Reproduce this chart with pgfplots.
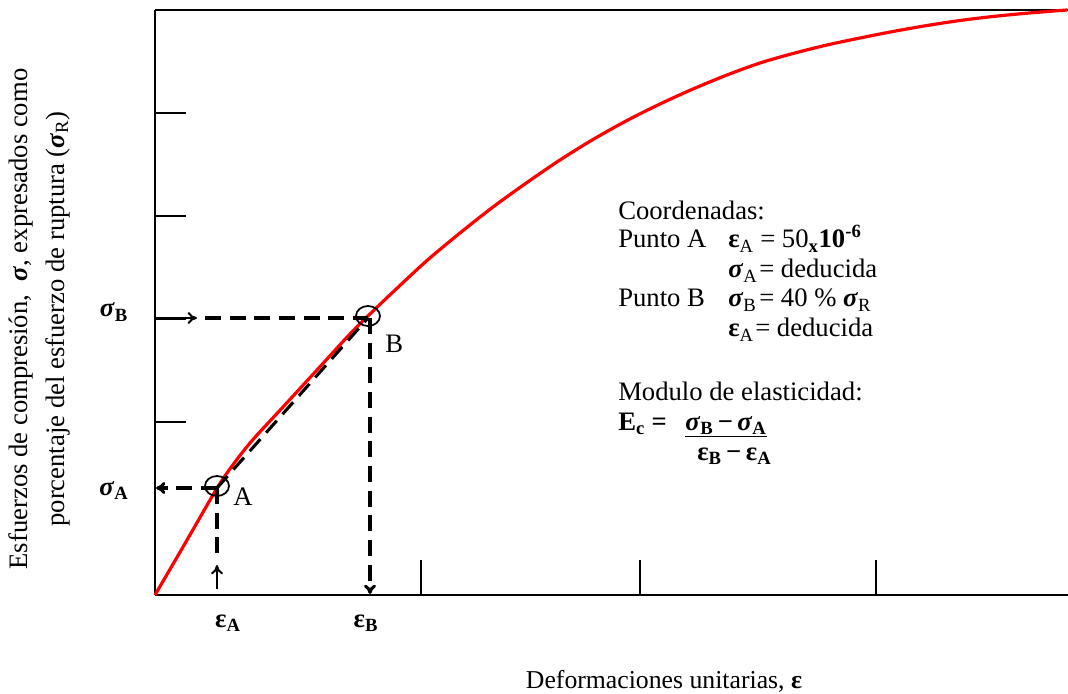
\documentclass[border=0pt]{standalone}
\usepackage{pgfplots}
\pgfplotsset{compat=1.18}
\usepackage{fontspec}
\setmainfont{Liberation Serif}
\usetikzlibrary{arrows.meta}

\newcommand{\sig}[1]{\textbf{\textit{σ}}\textsubscript{\textbf{#1}}}
\newcommand{\eps}[1]{\textbf{ε}\textsubscript{\textbf{#1}}}

\begin{document}
\begin{tikzpicture}[
  dsh/.style={black, line width=2.3pt, dash pattern=on 12pt off 6.5pt},
  arr/.style={-{To[length=7pt,width=9pt]}},
  lbl/.style={font=\fontsize{20}{24}\selectfont, inner sep=0pt},
]
\begin{axis}[
  scale only axis, width=684.75pt, height=438.75pt,
  xmin=0, xmax=913, ymin=0, ymax=585,
  axis x line*=bottom, axis y line*=left,
  axis line style={line width=1.3pt},
  xtick={266,485,721}, ytick={173,276,379,482},
  xticklabels={}, yticklabels={},
  tick align=inside,
  xtick style={black, line width=1pt, /pgfplots/major tick length=26pt},
  ytick style={black, line width=1pt, /pgfplots/major tick length=23pt},
  clip=false,
]
% top frame line
\addplot[black, line width=1.3pt] coordinates {(0,585) (913,585)};

% stress-strain curve
\addplot[red, line width=2.4pt, smooth] coordinates {
  (0,0) (28,48) (58,100) (72,122) (95,152) (128,188) (162,225)
  (195,261) (215,281) (238,303) (272,334.5) (305,362) (338,388)
  (372,412.5) (405,435) (438,455.5) (472,474.5) (505,491) (538,506)
  (572,520) (605,532) (638,541.5) (672,550) (705,557) (738,563.5)
  (772,569.5) (805,574.5) (838,578.5) (872,581.8) (912,585)};

% chord A-B
\addplot[dsh] coordinates {(62,107) (213,277)};
% sigma_B guide
\addplot[black, line width=1.5pt, arr] coordinates {(1,277) (42,277)};
\addplot[dsh] coordinates {(50,277) (213,277)};
\addplot[dsh, arr] coordinates {(215,277) (215,1)};
% sigma_A guide
\addplot[dsh, arr] coordinates {(62,107) (1,107)};
\addplot[dsh] coordinates {(62,107) (62,34)};
\addplot[black, line width=1.5pt, arr] coordinates {(62,6) (62,30)};

% points A and B
\addplot[only marks, mark=o, mark size=7.5pt,
  mark options={black, line width=1.3pt, xscale=1.2}]
  coordinates {(62,109) (213,279)};

% point labels
\node[lbl, anchor=base west] at (axis cs:78,90) {A};
\node[lbl, anchor=base west] at (axis cs:230,243) {B};
\node[lbl, anchor=base] at (axis cs:-41,278) {\sig{B}};
\node[lbl, anchor=base] at (axis cs:-41,100) {\sig{A}};
\node[lbl, anchor=base] at (axis cs:73,-32) {\eps{A}};
\node[lbl, anchor=base] at (axis cs:211,-32) {\eps{B}};

% annotation block
\node[lbl, anchor=base west] at (axis cs:463,375) {Coordenadas:};
\node[lbl, anchor=base west] at (axis cs:463,347) {Punto A};
\node[lbl, anchor=base west] at (axis cs:573,347) {\textbf{ε}\textsubscript{A}};
\node[lbl, anchor=base west] at (axis cs:605,347) {= 50\textsubscript{\textbf{x}}\textbf{10\textsuperscript{-6}}};
\node[lbl, anchor=base west] at (axis cs:573,317) {\textbf{\textit{σ}}\textsubscript{A}};
\node[lbl, anchor=base west] at (axis cs:604,317) {= deducida};
\node[lbl, anchor=base west] at (axis cs:463,288) {Punto B};
\node[lbl, anchor=base west] at (axis cs:573,288) {\textbf{\textit{σ}}\textsubscript{B}};
\node[lbl, anchor=base west] at (axis cs:604,288) {= 40 \% \textbf{\textit{σ}}\textsubscript{R}};
\node[lbl, anchor=base west] at (axis cs:573,258) {\textbf{ε}\textsubscript{A}};
\node[lbl, anchor=base west] at (axis cs:600,258) {= deducida};
\node[lbl, anchor=base west] at (axis cs:463,195) {Modulo de elasticidad:};
\node[lbl, anchor=base west] at (axis cs:463,165) {\textbf{E\textsubscript{c} =}};
\node[lbl, anchor=base west] at (axis cs:530,165) {\underline{\sig{B}\,\textbf{−}\,\sig{A}}};
\node[lbl, anchor=base west] at (axis cs:542,135) {\eps{B}\,\textbf{−}\,\eps{A}};

% axis titles
\node[lbl, anchor=base, font=\fontsize{19.3}{24}\selectfont] at (axis cs:509,-93) {Deformaciones unitarias, \textbf{ε}};
\node[rotate=90, align=center, font=\fontsize{20}{27.75}\selectfont]
  at (axis cs:-116,276)
  {Esfuerzos de compresión, \ \textbf{\textit{σ}}, expresados como\\
   porcentaje del esfuerzo de ruptura (\textbf{\textit{σ}}\textsubscript{R})};

\coordinate (bbll) at (axis cs:-155,-98);
\coordinate (bbur) at (axis cs:913,595);
\end{axis}
\pgfresetboundingbox
\useasboundingbox (bbll) rectangle (bbur);
\end{tikzpicture}
\end{document}
